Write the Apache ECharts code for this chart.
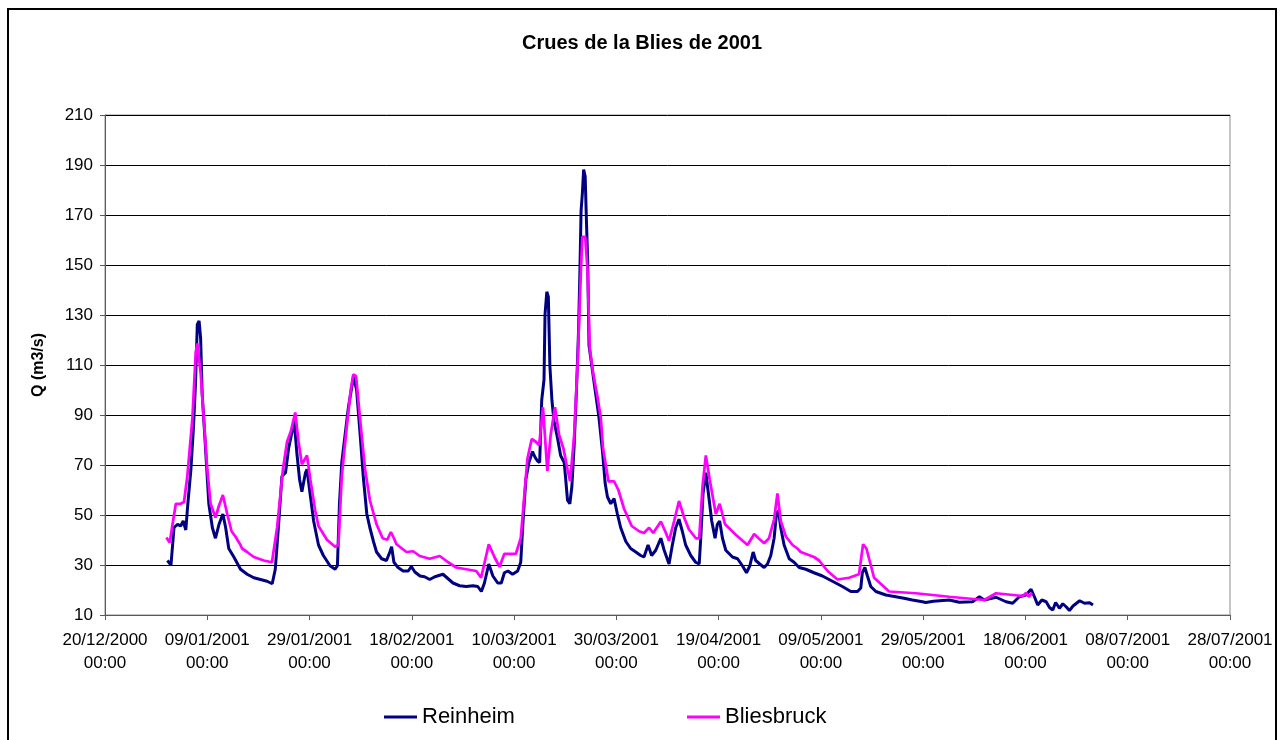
<!DOCTYPE html>
<html>
<head>
<meta charset="utf-8">
<title>Crues de la Blies de 2001</title>
<script src="https://cdn.jsdelivr.net/npm/echarts@6/dist/echarts.min.js"></script>
<style>
  html, body { margin: 0; padding: 0; background: #fff; }
  #chart { width: 1284px; height: 740px; }
</style>
</head>
<body>
<div id="chart"></div>
<script>
// Time is counted in days from 20/12/2000 00:00; discharge Q in m3/s.
const xTickLabels = ['20/12/2000', '09/01/2001', '29/01/2001', '18/02/2001', '10/03/2001', '30/03/2001',
  '19/04/2001', '09/05/2001', '29/05/2001', '18/06/2001', '08/07/2001', '28/07/2001'];

// Reinheim gauge (hourly record, sampled)
const reinheimDay = [
  12.2, 12.9, 13.5, 14.2, 14.8, 15.3, 15.8, 16.2, 16.8, 17.3, 17.7, 18.05, 18.4, 18.7, 19.0, 19.5, 19.9, 20.3,
  21.0, 21.6, 22.3, 23.05, 23.6, 24.2, 25.2, 26.5, 27.8, 29.1, 30.4, 31.7, 32.7, 33.3, 34.0, 34.6, 35.3, 35.9,
  36.6, 37.0, 37.5, 38.05, 38.5, 39.2, 39.5, 40.1, 40.8, 41.75, 42.7, 44.0, 45.0, 45.45, 45.85, 46.3, 46.95,
  47.6, 48.05, 48.6, 48.9, 49.2, 49.9, 50.5, 51.2, 51.8, 52.5, 53.1, 54.1, 55.05, 55.7, 56.05, 56.5, 57.3,
  58.3, 59.3, 59.9, 60.6, 61.6, 62.5, 63.5, 64.5, 65.45, 66.1, 67.1, 68.05, 69.35, 70.65, 71.95, 72.9, 73.6,
  74.2, 75.05, 75.85, 76.8, 77.5, 78.1, 78.8, 79.7, 80.7, 81.3, 81.75, 82.3, 82.9, 83.6, 84.1, 84.55, 85.0,
  85.4, 85.85, 86.05, 86.4, 86.7, 87.0, 87.4, 87.8, 88.5, 89.1, 89.8, 90.1, 90.45, 90.9, 91.3, 91.75, 92.2,
  92.6, 92.85, 93.1, 93.35, 93.6, 93.9, 94.15, 94.4, 94.65, 95.2, 95.85, 96.6, 97.3, 97.8, 98.25, 98.9, 99.55,
  100.2, 100.85, 101.85, 102.8, 103.8, 104.75, 105.4, 106.2, 106.9, 107.7, 108.7, 109.35, 110.3, 110.95,
  111.6, 112.25, 112.9, 113.55, 114.55, 115.5, 116.2, 116.5, 116.95, 117.5, 118.0, 118.65, 119.3, 119.75,
  120.2, 120.75, 121.4, 122.7, 123.7, 124.65, 125.45, 126.1, 126.75, 127.25, 128.05, 128.9, 129.55, 130.2,
  130.85, 131.3, 131.7, 132.15, 132.8, 133.8, 134.75, 135.75, 137.05, 138.65, 140.3, 142.25, 144.2, 145.85,
  147.15, 147.8, 148.1, 148.6, 149.1, 149.75, 150.75, 152.7, 154.65, 156.25, 157.9, 159.85, 160.5, 162.0,
  165.1, 167.05, 169.65, 171.0, 171.95, 174.25, 176.2, 177.5, 178.8, 180.1, 181.1, 181.75, 182.4, 183.2,
  184.05, 184.7, 185.35, 185.9, 186.65, 187.3, 187.95, 188.6, 189.3, 190.6, 191.55, 192.55, 193.2
];
const reinheimQ = [
  31.8, 30.0, 45.0, 46.3, 45.6, 47.6, 44.0, 54.5, 68.3, 85.0, 102.8, 126.2, 127.6, 120.7, 98.6, 82.1, 68.3, 54.5,
  44.9, 40.7, 46.3, 50.4, 44.9, 36.6, 33.2, 28.3, 26.3, 24.9, 24.2, 23.5, 22.5, 28.3, 47.6, 65.5, 66.9, 76.6,
  83.5, 87.6, 75.2, 64.2, 59.3, 66.9, 68.3, 58.6, 47.6, 38.0, 33.8, 29.7, 28.3, 29.7, 54.5, 71.0, 82.0,
  93.1, 98.6, 105.5, 106.2, 100.0, 82.0, 65.5, 50.4, 44.9, 39.4, 35.2, 32.5, 31.8, 35.2, 37.3, 31.1, 29.0,
  27.6, 27.6, 29.4, 27.2, 25.6, 25.3, 24.2, 25.3, 25.9, 26.3, 24.5, 22.8, 21.7, 21.4, 21.7, 21.4, 19.4,
  22.8, 30.4, 25.6, 22.8, 22.8, 26.9, 27.6, 26.3, 27.6, 31.1, 47.6, 64.2, 71.0, 75.4, 73.1, 71.7, 71.0,
  95.9, 104.1, 130.3, 139.3, 137.2, 109.6, 95.9, 87.6, 80.7, 73.8, 71.0, 64.2, 55.9, 54.5, 61.4, 78.0, 100.0,
  123.4, 145.5, 171.7, 178.6, 188.2, 185.5, 167.5, 151.0, 117.9, 109.6, 100.0, 89.0, 75.2, 62.8, 57.3, 54.5, 56.6,
  50.4, 44.9, 39.4, 36.6, 35.2, 33.8, 33.2, 38.0, 33.8, 35.9, 40.7, 35.9, 30.4, 38.0,
  44.9, 48.3, 43.5, 38.0, 33.8, 31.1, 30.4, 40.7, 58.6, 66.9, 58.6, 47.6, 40.7, 46.3,
  47.6, 40.7, 35.9, 33.2, 32.5, 29.7, 26.9, 29.7, 35.2, 31.8, 30.4, 29.0, 30.4, 33.8,
  40.7, 50.4, 51.8, 44.9, 38.0, 32.5, 31.1, 29.0, 28.3, 26.9, 25.6, 23.5, 21.4, 19.4,
  19.4, 20.8, 26.9, 29.0, 25.6, 21.4, 19.4, 18.0, 17.3, 16.7, 16.0, 15.3, 15.0, 15.5,
  16.0, 15.1, 15.3, 17.3, 16.0, 17.1, 15.3, 14.7, 17.3, 18.0, 20.3, 17.3, 14.0, 16.0,
  15.3, 13.0, 12.0, 15.0, 12.7, 14.5, 13.3, 11.8, 13.6, 15.7, 14.7, 14.9, 14.0
];

// Bliesbruck gauge (daily record)
const bliesbruckDay = [
  12.0, 12.65, 13.85, 14.8, 15.45, 16.1, 17.1, 17.75, 18.05, 18.7, 19.35, 20.0, 20.65, 21.6, 22.3, 23.05,
  23.9, 24.75, 25.5, 26.5, 26.8, 27.8, 29.1, 31.05, 32.65, 33.65, 34.8, 35.6, 36.35, 37.2, 37.85, 38.5, 39.5,
  40.15, 41.1, 41.75, 43.4, 45.0, 45.65, 46.3, 47.25, 48.05, 48.55, 49.1, 49.85, 50.85, 51.8, 53.1, 54.3,
  55.2, 55.9, 56.5, 57.0, 58.95, 60.25, 61.55, 63.5, 65.45, 67.1, 68.7, 70.65, 72.6, 73.55, 75.05, 76.15,
  77.15, 78.1, 79.75, 80.35, 81.3, 82.6, 83.45, 84.25, 84.9, 85.65, 86.5, 87.15, 88.0, 88.8, 89.65, 90.45,
  90.95, 91.75, 92.4, 93.05, 93.35, 93.9, 94.35, 94.8, 95.45, 96.3, 96.95, 97.4, 98.45, 99.55, 100.4, 101.5,
  103.0, 104.45, 105.4, 106.4, 107.2, 108.7, 109.55, 110.3, 111.3, 112.25, 113.25, 114.2, 115.55, 116.2,
  116.85, 117.5, 118.25, 119.45, 120.2, 121.25, 123.35, 125.65, 126.95, 127.8, 128.9, 129.85, 130.85, 131.5,
  132.15, 133.15, 134.45, 135.4, 136.05, 138.65, 139.65, 141.3, 143.25, 145.5, 147.45, 148.25, 148.9, 150.4,
  153.35, 158.55, 165.1, 171.95, 174.25, 179.5, 180.15, 180.65, 181.3
];
const bliesbruckQ = [
  41.0, 39.0, 54.5, 54.5, 55.2, 65.5, 89.0, 115.2, 118.6, 106.9, 87.6, 68.3, 54.5, 49.0, 53.8, 58.0,
  50.4, 43.5, 41.4, 38.0, 36.6, 35.2, 33.2, 31.8, 31.1, 44.9, 68.3, 79.3, 83.5, 91.0, 79.3, 70.3, 73.8,
  64.2, 51.8, 45.6, 40.1, 37.3, 38.0, 65.5, 84.8, 100.0, 106.2, 105.5, 89.0, 68.3, 55.9, 46.3, 40.7,
  40.1, 43.2, 40.7, 38.3, 35.2, 35.5, 33.6, 32.5, 33.6, 31.1, 29.0, 28.3, 27.6, 24.9, 38.3, 33.2,
  29.3, 34.5, 34.5, 34.5, 40.7, 72.4, 80.4, 79.3, 77.9, 93.1, 67.6, 82.0, 93.1, 82.0, 76.6, 68.3,
  63.5, 82.0, 109.6, 146.9, 161.3, 161.3, 148.3, 116.6, 106.9, 97.3, 89.0, 76.6, 63.5, 63.5, 60.0, 52.5,
  45.6, 43.5, 42.8, 44.9, 42.8, 47.4, 43.5, 39.7, 47.6, 55.6, 49.0, 44.2, 40.7, 40.7,
  61.4, 73.8, 64.2, 50.4, 54.5, 46.3, 42.1, 38.0, 42.4, 40.7, 38.7, 40.7, 48.3, 58.6,
  47.6, 41.4, 38.0, 36.6, 35.2, 33.2, 31.8, 27.6, 24.2, 24.9, 26.3, 38.3, 36.6, 24.9,
  19.4, 18.7, 17.3, 16.0, 18.7, 17.6, 18.9, 17.3, 18.9
];

const pairs = (xs, ys) => xs.map((x, i) => [x, ys[i]]);
const FONT = '"Liberation Sans", Arial, sans-serif';

const chart = echarts.init(document.getElementById('chart'), null, { renderer: 'canvas' });
chart.setOption({
  animation: false,
  backgroundColor: '#ffffff',
  title: {
    text: 'Crues de la Blies de 2001',
    left: 'center',
    top: 26,
    textStyle: { fontFamily: FONT, fontSize: 20, fontWeight: 'bold', color: '#000', lineHeight: 24 }
  },
  legend: [
    {
      data: ['Reinheim'], left: 384, top: 706, padding: 0, icon: 'rect', itemWidth: 33, itemHeight: 3,
      textStyle: { fontFamily: FONT, fontSize: 22, color: '#000' }
    },
    {
      data: ['Bliesbruck'], left: 687, top: 706, padding: 0, icon: 'rect', itemWidth: 33, itemHeight: 3,
      textStyle: { fontFamily: FONT, fontSize: 22, color: '#000' }
    }
  ],
  grid: {
    left: 105, top: 115, width: 1125, height: 500,
    show: true, borderColor: '#8c8c8c', borderWidth: 1, backgroundColor: '#fff'
  },
  xAxis: {
    type: 'value', min: 0, max: 220, interval: 20,
    axisLine: { show: true, onZero: false, lineStyle: { color: '#5a5a5a', width: 1 } },
    axisTick: { show: true, length: 5, lineStyle: { color: '#5a5a5a' } },
    splitLine: { show: false },
    axisLabel: {
      showMinLabel: true, showMaxLabel: true, margin: 14,
      fontFamily: FONT, fontSize: 17, color: '#000', lineHeight: 23,
      formatter: v => xTickLabels[Math.round(v / 20)] + '\n00:00'
    }
  },
  yAxis: {
    type: 'value', min: 10, max: 210, interval: 20,
    name: 'Q (m3/s)', nameLocation: 'middle', nameGap: 58, nameRotate: 90,
    nameTextStyle: { fontFamily: FONT, fontSize: 16, fontWeight: 'bold', color: '#000' },
    axisLine: { show: true, lineStyle: { color: '#5a5a5a', width: 1 } },
    axisTick: { show: true, length: 5, lineStyle: { color: '#5a5a5a' } },
    splitLine: { show: true, lineStyle: { color: '#000', width: 1 } },
    axisLabel: { margin: 12, fontFamily: FONT, fontSize: 17, color: '#000' }
  },
  series: [
    {
      name: 'Reinheim', type: 'line', data: pairs(reinheimDay, reinheimQ),
      showSymbol: false, symbol: 'none', color: '#000080',
      lineStyle: { color: '#000080', width: 3 }, z: 2
    },
    {
      name: 'Bliesbruck', type: 'line', data: pairs(bliesbruckDay, bliesbruckQ),
      showSymbol: false, symbol: 'none', color: '#ff00ff',
      lineStyle: { color: '#ff00ff', width: 2.75 }, z: 3
    }
  ],
  graphic: [
    {
      type: 'rect', silent: true, z: 100,
      shape: { x: 8, y: 9, width: 1268, height: 780 },
      style: { fill: 'none', stroke: '#000', lineWidth: 2 }
    }
  ]
});
</script>
</body>
</html>
